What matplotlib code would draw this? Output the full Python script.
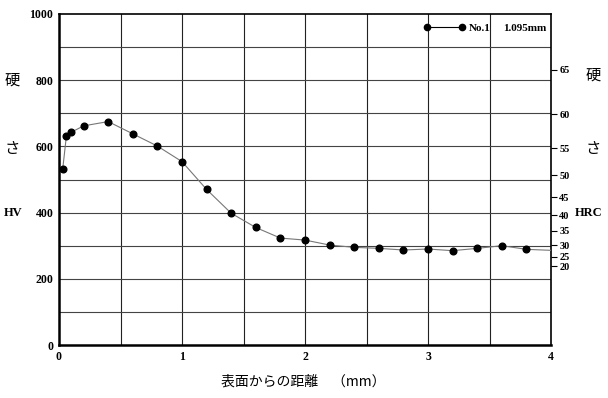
import matplotlib
matplotlib.use("Agg")
import matplotlib.pyplot as plt
from matplotlib.lines import Line2D

plt.rcParams['font.family'] = ['Noto Sans CJK JP', 'DejaVu Sans']

# measured hardness profile (No.1)
depth = [0.03, 0.06, 0.1, 0.2, 0.4, 0.6, 0.8, 1.0, 1.2, 1.4, 1.6, 1.8,
         2.0, 2.2, 2.4, 2.6, 2.8, 3.0, 3.2, 3.4, 3.6, 3.8]
hv = [531, 631, 643, 662, 675, 638, 601, 554, 470, 398, 355, 323,
      317, 302, 295, 292, 287, 290, 285, 292, 300, 289]
# curve runs on to the edge of the chart after the last point
line_end_x = 4.0
line_end_hv = 286

hv_ticks = [0, 200, 400, 600, 800, 1000]
x_ticks = [0, 1, 2, 3, 4]
hrc_labels = [65, 60, 55, 50, 45, 40, 35, 30, 25, 20]
hrc_as_hv = [832, 697, 595, 513, 446, 392, 345, 302, 266, 238]

num_font = ['Liberation Serif', 'DejaVu Serif']

fig = plt.figure(figsize=(6.08, 3.98), dpi=100)
ax = fig.add_axes([59/608, 1-345/398, 492/608, 331/398])

ax.set_xlim(0, 4)
ax.set_ylim(0, 1000)

# grid: 0.5 mm by 100 HV
for gx in [0.5, 1, 1.5, 2, 2.5, 3, 3.5]:
    ax.axvline(gx, color='#222222', lw=0.8, zorder=1)
for gy in range(100, 1000, 100):
    ax.axhline(gy, color='#444444', lw=0.8, zorder=1)

ax.plot(depth + [line_end_x], hv + [line_end_hv], color='#777777', lw=0.8,
        marker='o', ms=4.8, mfc='black', mec='black',
        markevery=list(range(len(depth))), zorder=3)

for side in ['left', 'bottom']:
    ax.spines[side].set_linewidth(1.8)
for side in ['top', 'right']:
    ax.spines[side].set_linewidth(1.2)

ax.set_xticks(x_ticks)
ax.set_yticks(hv_ticks)
ax.tick_params(length=0, pad=4)
for lab in ax.get_xticklabels() + ax.get_yticklabels():
    lab.set_family(num_font)
    lab.set_fontweight('bold')
    lab.set_fontsize(8.5)

ax2 = ax.twinx()
ax2.set_ylim(0, 1000)
ax2.set_yticks(hrc_as_hv)
ax2.set_yticklabels([str(v) for v in hrc_labels])
ax2.tick_params(axis='y', direction='out', length=4, width=0.8, pad=2)
for lab in ax2.get_yticklabels():
    lab.set_family(num_font)
    lab.set_fontweight('bold')
    lab.set_fontsize(7.5)
for s in ax2.spines.values():
    s.set_visible(False)

handle = Line2D([], [], color='black', lw=0.8, marker='o', ms=4.5,
                mfc='black', mec='black')
leg = ax.legend([handle], ['No.1'], loc='upper left', numpoints=2,
                bbox_to_anchor=(355/492, 1.0), frameon=False,
                handlelength=3.8, handletextpad=0.3, borderaxespad=0.45,
                prop={'family': num_font, 'weight': 'bold', 'size': 8})
ax.text(0.99, 0.955, '1.095mm', transform=ax.transAxes, ha='right', va='center',
        family=num_font, fontweight='bold', fontsize=8)

# axis titles
fig.text(12/608, 1-80/398, '硬', ha='center', va='center', fontsize=11)
fig.text(12/608, 1-148/398, 'さ', ha='center', va='center', fontsize=11)
fig.text(13/608, 1-213/398, 'HV', ha='center', va='center', fontsize=9,
         family=num_font, fontweight='bold')
fig.text(593/608, 1-75/398, '硬', ha='center', va='center', fontsize=11)
fig.text(593/608, 1-148/398, 'さ', ha='center', va='center', fontsize=11)
fig.text(589/608, 1-213/398, 'HRC', ha='center', va='center', fontsize=9,
         family=num_font, fontweight='bold')
fig.text(303/608, 1-382/398, '表面からの距離　（mm）', ha='center', va='center',
         fontsize=10)

fig.savefig('out.png', dpi=100)
